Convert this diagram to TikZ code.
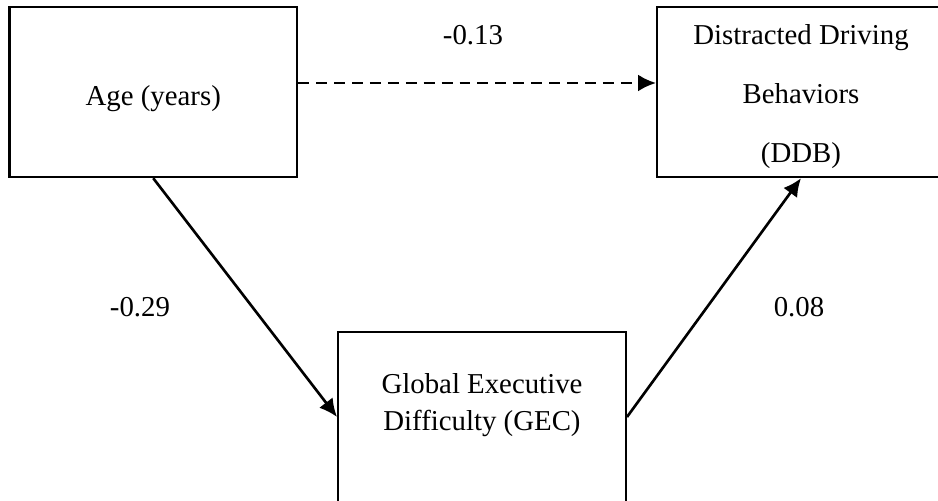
\documentclass[tikz,border=0pt]{standalone}
\usepackage{fontspec}
\setmainfont{Liberation Serif}
\usetikzlibrary{arrows.meta}

\begin{document}
\begin{tikzpicture}[
  box/.style={draw, line width=1.4pt, minimum width=5.75cm, minimum height=3.4cm, inner sep=0pt},
  boxtext/.style={align=center, inner sep=0pt, font=\fontsize{16.4}{21}\selectfont},
  effect/.style={-{Latex[length=3.6mm,width=3.4mm]}, line width=1.5pt},
  coef/.style={font=\fontsize{16.4}{20}\selectfont}
]
% Frame
\fill[white, use as bounding box] (0,0) rectangle (18.76,10.02);
\clip (0,0) rectangle (18.76,10.02);
% Boxes
\node[box] (age) at (3.065,8.18) {};
\node[box] (ddb) at (16.02,8.18) {};
\node[box] (gec) at (9.64,1.68) {};
% Box texts
\node[boxtext] (agetxt) at ([yshift=-0.14cm]age.center) {Age (years)};
\node[boxtext, font=\fontsize{16.4}{33.6}\selectfont] (ddbtxt) at ([yshift=-0.1cm]ddb.center)
  {Distracted Driving\\Behaviors\\(DDB)};
\node[boxtext] (gectxt) at (9.64,1.92) {Global Executive\\Difficulty (GEC)};
% Paths
\draw[effect, dash pattern=on 6.2pt off 4pt] ([yshift=0.18cm]age.east) -- ([yshift=0.18cm]ddb.west);
\draw[effect] (age.south) -- (gec.west);
\draw[effect] (gec.east) -- (ddb.south);
% Coefficients
\node[coef] (c13) at (9.46,9.32) {-0.13};
\node[coef] (c29) at (2.8,3.88) {-0.29};
\node[coef] (c08) at (15.98,3.88) {0.08};
\end{tikzpicture}
\end{document}
